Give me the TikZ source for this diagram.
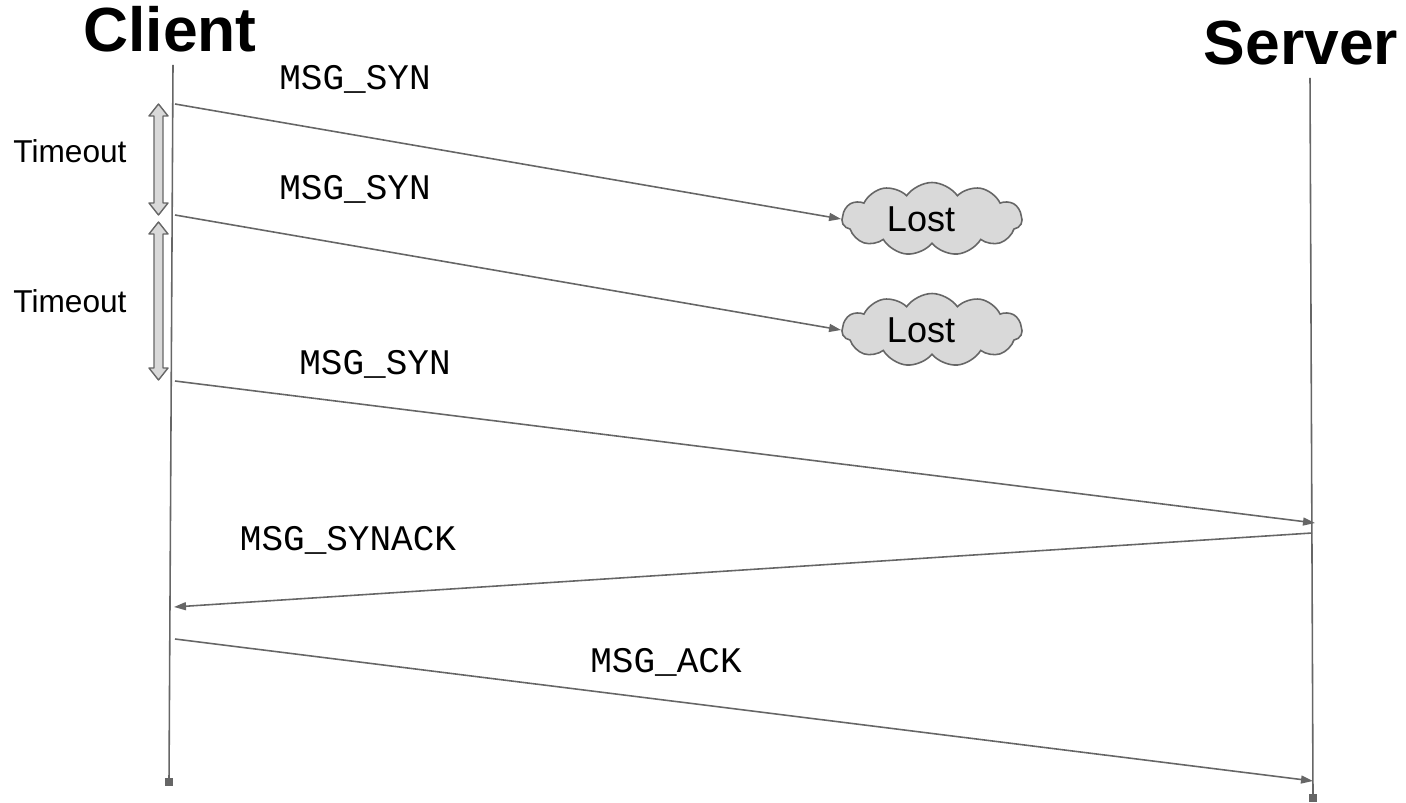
\documentclass[tikz,border=0pt]{standalone}
\usepackage{fontspec}
\setmainfont{Liberation Sans}
\setmonofont{Liberation Mono}
\usetikzlibrary{
    arrows.meta,
    shapes.symbols
}
\definecolor{linegray}{HTML}{666666}
\definecolor{fillgray}{HTML}{D9D9D9}

\begin{document}
\begin{tikzpicture}[x=0.02cm, y=-0.02cm, >={Triangle[length=0.24cm, width=0.16cm]},
    life/.style={draw=linegray, line width=0.9pt},
    msg/.style={->, draw=linegray, line width=0.9pt},
    timer/.style={draw=linegray, fill=fillgray, line width=0.8pt, line join=round},
    endmark/.style={rectangle, fill=linegray, minimum size=0.16cm, inner sep=0pt},
    lost/.style={cloud, cloud puffs=11, cloud puff arc=110, aspect=2.5,
        draw=linegray, fill=fillgray, line width=0.9pt,
        minimum width=3.6cm, minimum height=1.46cm, inner sep=0pt,
        font=\fontsize{20.5}{24}\selectfont},
    title/.style={font=\bfseries\fontsize{35.5}{40}\selectfont, anchor=base},
    side/.style={font=\fontsize{18}{22}\selectfont, anchor=base},
    tag/.style={font=\ttfamily\fontsize{20.5}{24}\selectfont, anchor=base}
]
    \useasboundingbox (0,0) rectangle (1406,803);

    % lifelines
    \coordinate (ctop) at (173,65);
    \coordinate (cbot) at (169,782);
    \coordinate (stop) at (1310,78);
    \coordinate (sbot) at (1313,798);

    \coordinate (c1) at (175,104);
    \coordinate (c2) at (175,215);
    \coordinate (c3) at (175,381);
    \coordinate (c4) at (174,607);
    \coordinate (c5) at (175,639);
    \coordinate (s3) at (1315,523);
    \coordinate (s4) at (1312,533);
    \coordinate (s5) at (1313,781);

    \draw[life] (ctop) -- (cbot);
    \draw[life] (stop) -- (sbot);
    \node[endmark] (cend) at (cbot) {};
    \node[endmark] (send) at (sbot) {};

    \node[title] (client) at (170,52) {Client};
    \node[title] (server) at (1301,65) {Server};

    % clouds
    \node[lost] (lost1) at (932,219) {Lost\hspace*{0.44cm}};
    \node[lost] (lost2) at (932,330) {Lost\hspace*{0.44cm}};

    % messages
    \draw[msg] (c1) -- (lost1.west);
    \draw[msg] (c2) -- (lost2.west);
    \draw[msg] (c3) -- (s3);
    \draw[msg] (s4) -- (c4);
    \draw[msg] (c5) -- (s5);

    \node[tag] (syn1) at (355,90) {MSG\_SYN};
    \node[tag] (syn2) at (355,200) {MSG\_SYN};
    \node[tag] (syn3) at (375,375) {MSG\_SYN};
    \node[tag] (synack) at (348,550) {MSG\_SYNACK};
    \node[tag] (ack) at (666,672) {MSG\_ACK};

    % timeouts
    \draw[timer] (158.5,104) -- (168,116) -- (163,116) -- (163,203) -- (168,203)
        -- (158.5,215) -- (149,203) -- (154,203) -- (154,116) -- (149,116) -- cycle;
    \draw[timer] (158.5,222) -- (168,234) -- (163,234) -- (163,368) -- (168,368)
        -- (158.5,380) -- (149,368) -- (154,368) -- (154,234) -- (149,234) -- cycle;

    \node[side] (wait1) at (70,163) {Timeout};
    \node[side] (wait2) at (70,313) {Timeout};
\end{tikzpicture}
\end{document}
